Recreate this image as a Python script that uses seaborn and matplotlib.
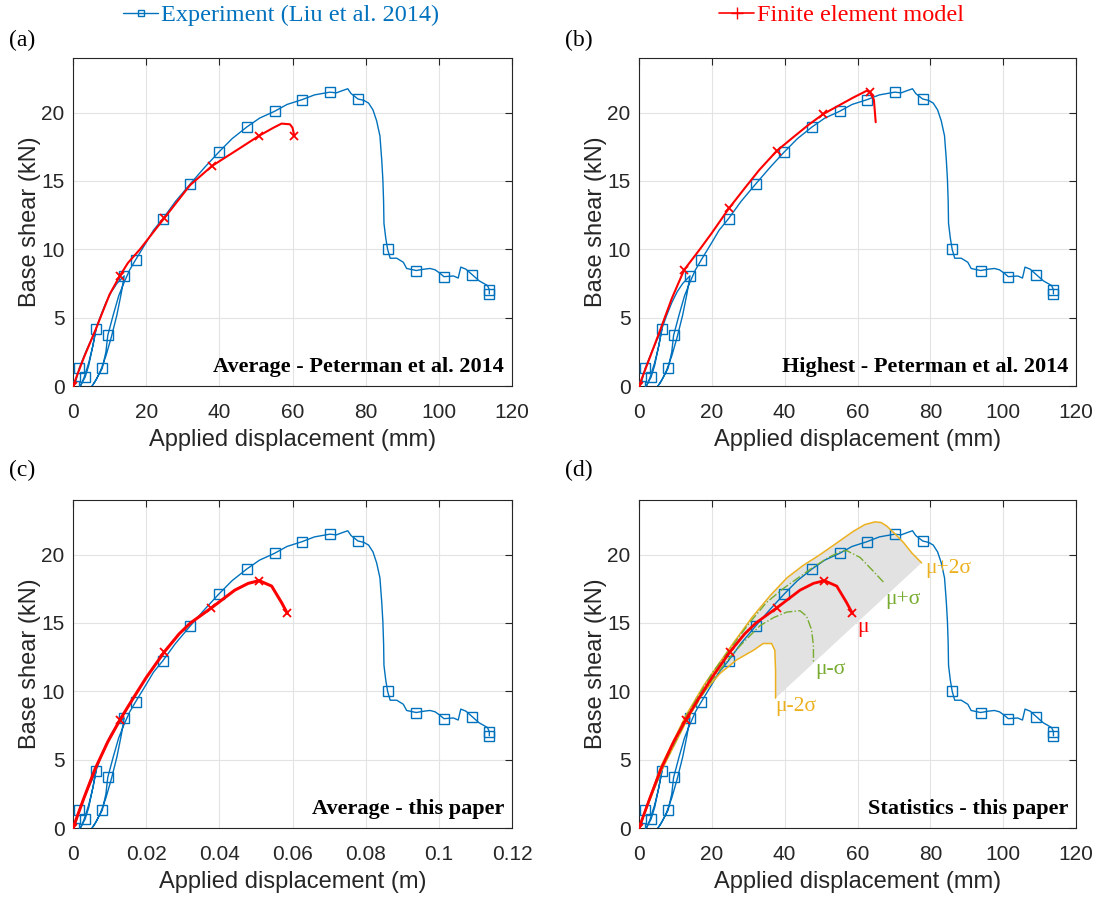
import numpy as np
import pandas as pd
import matplotlib
matplotlib.use("Agg")
import matplotlib.pyplot as plt
import seaborn as sns
from matplotlib.lines import Line2D

# ---------------- data (mm, kN) ----------------
exp_x = [0.3, 0.8, 1.7, 3.5, 5.0, 6.3, 5.5, 4.3, 3.0, 2.2, 2.0, 2.6, 3.3, 4.3, 5.3, 6.3,
         7.5, 9.0, 10.5, 12.0, 14.0, 13.2, 12.0, 10.5, 9.0, 7.5, 6.0, 5.2, 6.4, 8.0,
         9.0, 9.5, 11.0, 12.5, 14.0, 15.5, 17.1, 20.0, 22.0, 24.6, 28.0, 32.1, 36.0,
         39.8, 43.5, 47.5, 51.0, 55.1, 58.5, 62.6, 66.0, 70.2, 72.0, 73.5, 75.1, 76.0,
         77.9, 79.5, 80.8, 82.0, 83.0, 83.9, 84.4, 84.7, 84.9, 85.0, 85.5, 86.0, 86.7,
         88.5, 90.3, 91.2, 93.8, 96.0, 97.6, 99.0, 100.3, 101.4, 104.0, 105.3, 106.0,
         107.4, 109.1, 111.0, 113.3, 113.8, 113.8]
exp_y = [0.0, 0.4, 1.3, 2.5, 3.4, 4.15, 3.0, 1.7, 0.6, 0.1, 0.0, 0.3, 0.64, 1.5, 2.8, 4.2,
         5.1, 6.1, 6.9, 7.5, 8.06, 6.8, 5.2, 3.6, 2.2, 1.1, 0.3, 0.0, 0.5, 1.3,
         2.5, 3.7, 5.2, 6.6, 7.6, 8.5, 9.23, 10.5, 11.4, 12.25, 13.5, 14.8, 16.0,
         17.1, 18.1, 18.95, 19.6, 20.1, 20.6, 20.95, 21.3, 21.5, 21.45, 21.6, 21.75, 21.4,
         21.0, 20.9, 20.7, 20.2, 19.4, 18.3, 16.5, 15.1, 13.5, 11.9, 10.8, 10.0, 9.35,
         9.35, 9.05, 8.6, 8.45, 8.55, 8.6, 8.5, 8.25, 8.0, 8.05, 7.9, 8.7,
         8.55, 8.15, 7.7, 7.35, 7.05, 6.74]
exp_marks = [0, 2, 5, 12, 20, 29, 31, 36, 39, 41, 43, 45, 47, 49, 51, 56, 67, 72, 77, 82, 85, 86]

fe_avg_x = [0, 3, 6.3, 10, 12.8, 15, 18.3, 25, 32, 38, 45.6, 50.8, 54.8, 57, 59.3, 60, 60.5]
fe_avg_y = [0, 2.1, 4.2, 6.7, 8.06, 9.0, 10.0, 12.3, 14.7, 16.1, 17.4, 18.3, 18.9, 19.2, 19.15, 18.9, 18.3]
fe_avg_marks = [0, 4, 7, 9, 11, 16]

fe_high_x = [0, 3, 5.9, 9, 12.4, 16.7, 20, 24.7, 29.1, 33, 37.8, 42.8, 46.5, 50.6, 54.7,
             58.8, 62.5, 63.4, 64.5, 65.0]
fe_high_y = [0, 2.1, 4.15, 6.4, 8.5, 10.0, 11.2, 13.0, 14.5, 15.8, 17.2, 18.3, 19.1, 19.9, 20.5,
             21.1, 21.6, 21.5, 20.95, 19.3]
fe_high_marks = [0, 4, 7, 10, 13, 17]

mu_x = [0, 3, 6, 9.5, 12.8, 16, 20, 25, 29, 32.1, 37.8, 44.2, 47.9, 50.9, 54.3, 57.0, 58.6]
mu_y = [0, 2.2, 4.3, 6.3, 7.9, 9.3, 11.0, 12.9, 14.2, 15.0, 16.1, 17.4, 17.9, 18.1, 17.7, 16.5, 15.7]
mu_marks = [0, 4, 7, 10, 13, 16]

mups_x = [0, 6, 12.8, 20, 25, 30, 35, 40, 47.4, 52, 55.2, 57, 60.7, 64.3, 67.1]
mups_y = [0, 4.4, 8.1, 11.3, 13.1, 14.9, 16.5, 17.6, 19.0, 19.8, 20.2, 20.3, 19.8, 18.8, 18.0]

mums_x = [0, 6, 12.8, 20, 25, 28, 33.2, 37, 40.6, 44.2, 46, 47.4, 47.9, 47.9]
mums_y = [0, 4.2, 7.8, 10.8, 12.5, 13.4, 14.8, 15.4, 15.8, 15.9, 15.5, 14.5, 13.3, 12.1]

mup2s_x = [0, 6, 12.8, 17.7, 25, 31, 36, 40.6, 45, 49.7, 54, 58.8, 62, 64.8, 66.5, 68,
           70, 72.6, 75, 77.6]
mup2s_y = [0, 4.5, 8.2, 10.4, 13.2, 15.4, 17.0, 18.3, 19.2, 20.0, 20.8, 21.7, 22.2, 22.4, 22.35,
           22.1, 21.6, 20.9, 20.1, 19.4]

mum2s_x = [0, 6, 12.8, 17, 22.2, 26.8, 31.4, 34.1, 36.4, 37.3, 37.5, 37.5]
mum2s_y = [0, 4.1, 7.7, 9.7, 11.3, 12.3, 13.0, 13.5, 13.5, 13.0, 11.5, 9.5]

xticks_mm = [0, 20, 40, 60, 80, 100, 120]
xticks_m = [0, 0.02, 0.04, 0.06, 0.08, 0.1, 0.12]
xticklabels_m = ["0", "0.02", "0.04", "0.06", "0.08", "0.1", "0.12"]
yticks = [0, 5, 10, 15, 20]

panel_titles = ["Average - Peterman et al. 2014", "Highest - Peterman et al. 2014",
                "Average - this paper", "Statistics - this paper"]
panel_letters = ["(a)", "(b)", "(c)", "(d)"]

# ---------------- style ----------------
sns.set_style("white")
plt.rcParams["font.family"] = ["Liberation Sans", "DejaVu Sans"]
plt.rcParams["mathtext.fontset"] = "dejavusans"

BLUE = "#0072BD"
RED = "#FF0000"
GREEN = "#77AC30"
ORANGE = "#EDB120"
AX = "#262626"
SERIF = ["Liberation Serif", "DejaVu Serif"]

W, H = 1099, 898
fig = plt.figure(figsize=(W / 100, H / 100), dpi=100)

rects = [
    [73 / W, 1 - 386 / H, 439 / W, 328 / H],
    [639 / W, 1 - 386 / H, 437 / W, 328 / H],
    [73 / W, 1 - 828 / H, 439 / W, 328 / H],
    [639 / W, 1 - 828 / H, 437 / W, 328 / H],
]


def style_axes(ax, meters=False):
    ax.set_ylim(0, 24)
    ax.set_yticks(yticks)
    if meters:
        ax.set_xlim(0, 0.12)
        ax.set_xticks(xticks_m)
        ax.set_xticklabels(xticklabels_m)
        ax.set_xlabel("Applied displacement (m)", fontsize=17, color=AX, labelpad=5)
    else:
        ax.set_xlim(0, 120)
        ax.set_xticks(xticks_mm)
        ax.set_xlabel("Applied displacement (mm)", fontsize=17, color=AX, labelpad=5)
    ax.set_ylabel("Base shear (kN)", fontsize=17, color=AX, labelpad=0)
    ax.grid(True, color="#e3e3e3", lw=0.8)
    ax.set_axisbelow(True)
    ax.tick_params(direction="in", length=5, width=0.8, colors=AX, labelsize=15,
                   top=True, right=True)
    ax.tick_params(axis="x", pad=12)
    ax.tick_params(axis="y", pad=6)
    for s in ax.spines.values():
        s.set_color(AX)
        s.set_linewidth(0.8)


def exp_line(ax, scale=1.0):
    sns.lineplot(x=np.array(exp_x) * scale, y=exp_y, sort=False, estimator=None, ax=ax,
                 color=BLUE, lw=1.0, marker="s", markevery=exp_marks, markersize=6.5,
                 markerfacecolor="none", markeredgecolor=BLUE, markeredgewidth=1.0,
                 legend=False, zorder=3)


def fe_line(ax, xs, ys, marks, lw, scale=1.0, ms=6):
    sns.lineplot(x=np.array(xs) * scale, y=ys, sort=False, estimator=None, ax=ax,
                 color=RED, lw=lw, marker="x", markevery=marks, markersize=ms,
                 markeredgecolor=RED, markeredgewidth=1.3, legend=False, zorder=5)


axes = [fig.add_axes(r) for r in rects]

# (a)
exp_line(axes[0])
fe_line(axes[0], fe_avg_x, fe_avg_y, fe_avg_marks, 1.5)
style_axes(axes[0])
# (b)
exp_line(axes[1])
fe_line(axes[1], fe_high_x, fe_high_y, fe_high_marks, 1.5)
style_axes(axes[1])
# (c)
exp_line(axes[2], scale=0.001)
fe_line(axes[2], mu_x, mu_y, mu_marks, 2.2, scale=0.001)
style_axes(axes[2], meters=True)
# (d)
ax = axes[3]
ax.fill(np.concatenate([mup2s_x, mum2s_x[::-1]]), np.concatenate([mup2s_y, mum2s_y[::-1]]),
        color="#e2e2e2", lw=0, zorder=1)
exp_line(ax)
sns.lineplot(x=mup2s_x, y=mup2s_y, sort=False, estimator=None, ax=ax, color=ORANGE, lw=1.1,
             legend=False, zorder=4)
sns.lineplot(x=mum2s_x, y=mum2s_y, sort=False, estimator=None, ax=ax, color=ORANGE, lw=1.1,
             legend=False, zorder=4)
sns.lineplot(x=mups_x, y=mups_y, sort=False, estimator=None, ax=ax, color=GREEN, lw=1.0,
             linestyle="-.", legend=False, zorder=4)
sns.lineplot(x=mums_x, y=mums_y, sort=False, estimator=None, ax=ax, color=GREEN, lw=1.0,
             linestyle="-.", legend=False, zorder=4)
fe_line(ax, mu_x, mu_y, mu_marks, 2.0)
style_axes(ax)

ann = [("\u03bc+2\u03c3", 78.5, 19.0, ORANGE), ("\u03bc+\u03c3", 67.7, 16.7, GREEN),
       ("\u03bc", 59.9, 14.65, RED), ("\u03bc-\u03c3", 48.3, 11.6, GREEN),
       ("\u03bc-2\u03c3", 37.5, 8.9, ORANGE)]
for t, x, y, c in ann:
    ax.text(x, y, t, color=c, fontsize=15.5, family=SERIF, ha="left", va="center", zorder=6)

for a, t in zip(axes, panel_titles):
    a.text(1 - 8 / 439, 14 / 328, t, transform=a.transAxes, ha="right", va="baseline",
           fontsize=16, fontweight="bold", family=SERIF, color="black", zorder=7)

for t, (x, y) in zip(panel_letters, [(22, 40), (579, 40), (22, 470), (579, 470)]):
    fig.text(x / W, 1 - y / H, t, ha="center", va="center", fontsize=17, family=SERIF,
             color="black")

# legends
h_exp = Line2D([], [], color=BLUE, lw=1.0, marker="s", markersize=5, markerfacecolor="none",
               markeredgecolor=BLUE)
h_fe = Line2D([], [], color=RED, lw=1.2, marker="+", markersize=8, markeredgecolor=RED)
for h, lab, x0, col in [(h_exp, "Experiment (Liu et al. 2014)", 123, BLUE),
                        (h_fe, "Finite element model", 719, RED)]:
    leg = fig.legend([h], [lab], loc="center left", bbox_to_anchor=(x0 / W, 1 - 15 / H),
                     frameon=False, borderpad=0, borderaxespad=0, handlelength=1.45,
                     handletextpad=0.1, prop={"family": SERIF, "size": 17.5})
    for txt in leg.get_texts():
        txt.set_color(col)

fig.savefig("out.png", dpi=100)
